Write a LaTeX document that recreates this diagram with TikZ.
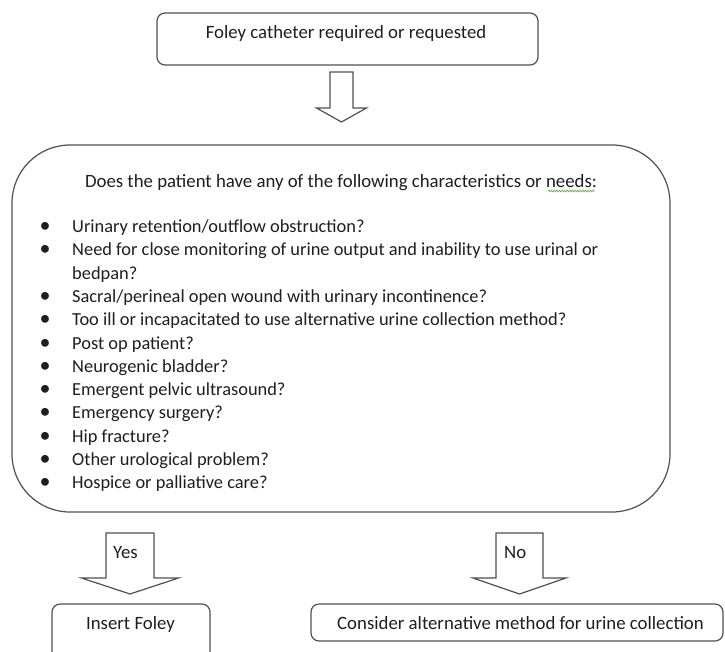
\documentclass[tikz,border=0pt]{standalone}
\usepackage{fontspec}
\setmainfont{Carlito}
\usetikzlibrary{decorations.pathmorphing}
\definecolor{linecol}{RGB}{80,80,80}
\definecolor{txtcol}{RGB}{30,30,30}
\definecolor{squig}{RGB}{90,170,60}
\newcommand{\bul}{\makebox[18pt]{\fontsize{22}{23.3}\selectfont •}}
\begin{document}
\begin{tikzpicture}[x=1pt,y=-1pt,
  box/.style={draw=linecol, line width=1.2pt, rounded corners=8pt, inner sep=0pt},
  txt/.style={text=txtcol, inner sep=0pt, font=\fontsize{18.8}{23.3}\selectfont},
  listtxt/.style={text=txtcol, inner sep=0pt, font=\fontsize{18.4}{23.3}\selectfont},
  barrow/.style={draw=linecol, line width=1.2pt, fill=white, line join=miter}]
\useasboundingbox (0,0) rectangle (725,651);
\clip (0,0) rectangle (725,651);

% start box
\node[box, minimum width=381pt, minimum height=52pt] (start) at (347.5,39) {};
\node[txt, anchor=base] (starttxt) at (346,38.5) {Foley catheter required or requested};

% arrow 1
\coordinate (a1) at (341.5,72);
\draw[barrow] (a1) ++(-11.5,0) -- ++(23,0) -- ++(0,36) -- ++(13.5,0) -- ++(-25,14) -- ++(-25,-14) -- ++(13.5,0) -- cycle;

% question box
\node[box, rounded corners=58pt, minimum width=658pt, minimum height=367pt] (question) at (341,328.5) {};
\node[txt, anchor=base] (qhead) at (341,187.5) {Does the patient have any of the following characteristics or needs:};
\draw[squig, line width=0.6pt, decorate, decoration={snake, amplitude=0.9pt, segment length=2.6pt}]
  (qhead.base east) ++(-49,3.5) -- ++(47,0);
\node[listtxt, anchor=base west] (qlist) at (36,232.5) {%
\begin{tabular}[t]{@{}l@{\hspace{18pt}}l@{}}
\bul & Urinary retention/outflow obstruction?\\
\bul & Need for close monitoring of urine output and inability to use urinal or\\
 & bedpan?\\
\bul & Sacral/perineal open wound with urinary incontinence?\\
\bul & Too ill or incapacitated to use alternative urine collection method?\\
\bul & Post op patient?\\
\bul & Neurogenic bladder?\\
\bul & Emergent pelvic ultrasound?\\
\bul & Emergency surgery?\\
\bul & Hip fracture?\\
\bul & Other urological problem?\\
\bul & Hospice or palliative care?
\end{tabular}};

% yes arrow
\coordinate (ay) at (130,533);
\draw[barrow] (ay) ++(-24,0) -- ++(48,0) -- ++(0,45) -- ++(24.5,0) -- ++(-48.5,16) -- ++(-48.5,-16) -- ++(24.5,0) -- cycle;
\node[txt, anchor=base west] (yes) at (113,558.5) {Yes};

% no arrow
\coordinate (an) at (519.5,533);
\draw[barrow] (an) ++(-23.5,0) -- ++(47,0) -- ++(0,45) -- ++(23,0) -- ++(-46.5,16) -- ++(-46.5,-16) -- ++(23,0) -- cycle;
\node[txt, anchor=base west] (no) at (504,558.5) {No};

% outcome boxes
\node[box, minimum width=158pt, minimum height=61pt] (insert) at (131,634.5) {};
\node[txt, anchor=base] (inserttxt) at (130.5,629) {Insert Foley};
\node[box, minimum width=412pt, minimum height=37pt] (alt) at (517,622.5) {};
\node[txt, anchor=base west] (alttxt) at (337,629) {Consider alternative method for urine collection};
\end{tikzpicture}
\end{document}
